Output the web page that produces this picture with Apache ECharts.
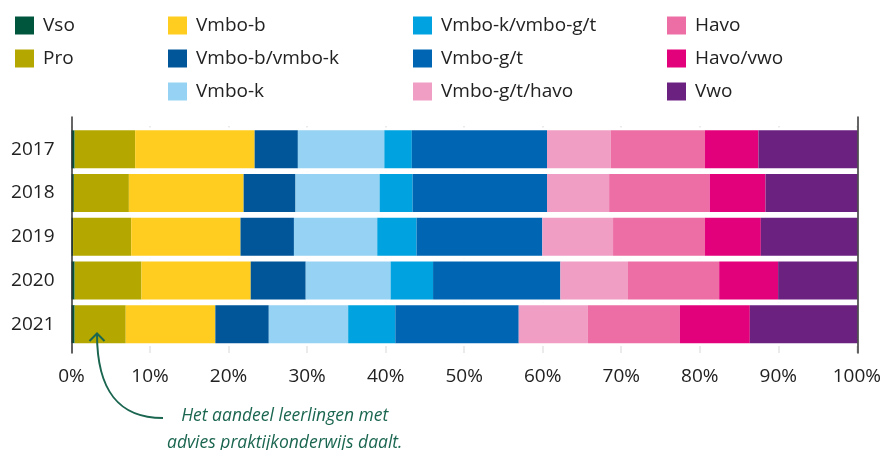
<!DOCTYPE html>
<html>
<head>
    <meta charset="utf-8" />
    <title>Schooladvies per jaar</title>
    <script src="https://cdn.jsdelivr.net/npm/echarts@6/dist/echarts.min.js"></script>
    <style type="text/css">
        html,
        body {
            width: 100%;
            height: 100%;
            margin: 0;
            background: #fff;
        }

        #chart {
            width: 884px;
            height: 450px;
        }
    </style>
</head>
<body>
    <div id="chart"></div>
    <script>
        // jaren (van boven naar beneden)
        var years = ['2017', '2018', '2019', '2020', '2021'];
        var xTicks = [0, 10, 20, 30, 40, 50, 60, 70, 80, 90, 100];

        // aandeel per advies, in procenten, per jaar
        var vso = [0.4, 0.3, 0.2, 0.4, 0.4];
        var pro = [7.7, 7.0, 7.4, 8.5, 6.5];
        var vmboB = [15.2, 14.6, 13.9, 13.9, 11.4];
        var vmboBK = [5.5, 6.6, 6.8, 7.0, 6.8];
        var vmboK = [11.0, 10.7, 10.6, 10.8, 10.1];
        var vmboKGT = [3.5, 4.2, 5.0, 5.4, 6.0];
        var vmboGT = [17.2, 17.1, 16.0, 16.2, 15.7];
        var vmboGTHavo = [8.1, 7.9, 9.0, 8.6, 8.8];
        var havo = [12.0, 12.8, 11.7, 11.6, 11.7];
        var havoVwo = [6.8, 7.1, 7.1, 7.5, 8.9];
        var vwo = [12.6, 11.7, 12.3, 10.1, 13.7];

        var names = ['Vso', 'Pro', 'Vmbo-b', 'Vmbo-b/vmbo-k', 'Vmbo-k', 'Vmbo-k/vmbo-g/t',
            'Vmbo-g/t', 'Vmbo-g/t/havo', 'Havo', 'Havo/vwo', 'Vwo'];
        var values = [vso, pro, vmboB, vmboBK, vmboK, vmboKGT, vmboGT, vmboGTHavo, havo, havoVwo, vwo];
        var colors = ['#00563d', '#b4a800', '#ffcd1f', '#01569a', '#95d2f3', '#00a2df',
            '#0066b3', '#f09ec4', '#ed6ea5', '#e3007b', '#6a2180'];

        var font = "'Open Sans', sans-serif";
        var txt = '#222';

        var series = [{
            // witte banden tussen de balken
            type: 'bar',
            xAxisIndex: 2,
            yAxisIndex: 5,
            data: years.map(function () { return 100; }),
            barWidth: '100%',
            itemStyle: { color: '#fff' },
            silent: true,
            z: 1
        }];
        names.forEach(function (n, i) {
            series.push({
                name: n,
                type: 'bar',
                stack: 'advies',
                xAxisIndex: 2,
                yAxisIndex: 4,
                data: values[i],
                barWidth: 38,
                itemStyle: { color: colors[i] },
                z: 2
            });
        });

        function legendCol(left, data) {
            return {
                orient: 'vertical',
                left: left,
                top: 11,
                itemWidth: 19,
                itemHeight: 18,
                itemGap: 14,
                icon: 'rect',
                selectedMode: false,
                data: data,
                textStyle: {
                    fontFamily: font,
                    fontSize: 19,
                    color: txt,
                    padding: [0, 0, 0, 4]
                }
            };
        }

        var option = {
            animation: false,
            color: colors,
            legend: [
                legendCol(10, names.slice(0, 2)),
                legendCol(163, names.slice(2, 5)),
                legendCol(408, names.slice(5, 8)),
                legendCol(662, names.slice(8, 11))
            ],
            grid: [
                // asslijnen links en rechts
                { left: 71.5, right: 26.5, top: 117, bottom: 97 },
                // rasterlijnen en labels
                { left: 71.5, right: 26.5, top: 126, bottom: 97 },
                // balken
                { left: 71.5, right: 26.5, top: 127.5, height: 218.5 }
            ],
            xAxis: [
                { gridIndex: 0, type: 'value', min: 0, max: 100, show: false },
                {
                    gridIndex: 1, type: 'value', min: 0, max: 100, interval: 10,
                    axisLine: { show: false },
                    axisTick: { show: false },
                    splitLine: { show: true, lineStyle: { color: '#e4e4e4', width: 1.5 } },
                    axisLabel: {
                        margin: 14,
                        fontFamily: font,
                        fontSize: 19,
                        color: txt,
                        formatter: function (v) { return xTicks.indexOf(v) >= 0 ? v + '%' : ''; }
                    }
                },
                { gridIndex: 2, type: 'value', min: 0, max: 100, show: false }
            ],
            yAxis: [
                {
                    gridIndex: 0, type: 'value', min: 0, max: 1, position: 'left', z: 10,
                    axisLine: { show: true, lineStyle: { color: '#333', width: 1.5 } },
                    axisTick: { show: false }, axisLabel: { show: false }, splitLine: { show: false }
                },
                {
                    gridIndex: 0, type: 'value', min: 0, max: 1, position: 'right', z: 10,
                    axisLine: { show: true, lineStyle: { color: '#333', width: 1.5 } },
                    axisTick: { show: false }, axisLabel: { show: false }, splitLine: { show: false }
                },
                { gridIndex: 1, type: 'value', min: 0, max: 1, show: false },
                { gridIndex: 1, type: 'value', min: 0, max: 1, show: false, position: 'right' },
                {
                    gridIndex: 2, type: 'category', data: years, inverse: true,
                    axisLine: { show: false },
                    axisTick: { show: false },
                    axisLabel: { margin: 17, fontFamily: font, fontSize: 19, color: txt }
                },
                { gridIndex: 2, type: 'category', data: years, inverse: true, show: false, position: 'right' }
            ],
            series: series,
            graphic: [
                {
                    type: 'bezierCurve',
                    shape: { x1: 163, y1: 418, cpx1: 118, cpy1: 418, cpx2: 97, cpy2: 390, x2: 97, y2: 334 },
                    style: { stroke: '#1b6650', lineWidth: 2, fill: null },
                    z: 20
                },
                {
                    type: 'polyline',
                    shape: { points: [[89.5, 341], [97, 333.5], [104.5, 341]] },
                    style: { stroke: '#1b6650', lineWidth: 2, fill: null },
                    z: 20
                },
                {
                    type: 'text',
                    left: 167,
                    top: 403,
                    style: {
                        text: 'Het aandeel leerlingen met\nadvies praktijkonderwijs daalt.',
                        font: 'italic 17.5px ' + font,
                        fill: '#1b6650',
                        textAlign: 'center',
                        lineHeight: 27
                    },
                    z: 20
                }
            ]
        };

        var chart = echarts.init(document.getElementById('chart'));
        chart.setOption(option);
    </script>
</body>
</html>
